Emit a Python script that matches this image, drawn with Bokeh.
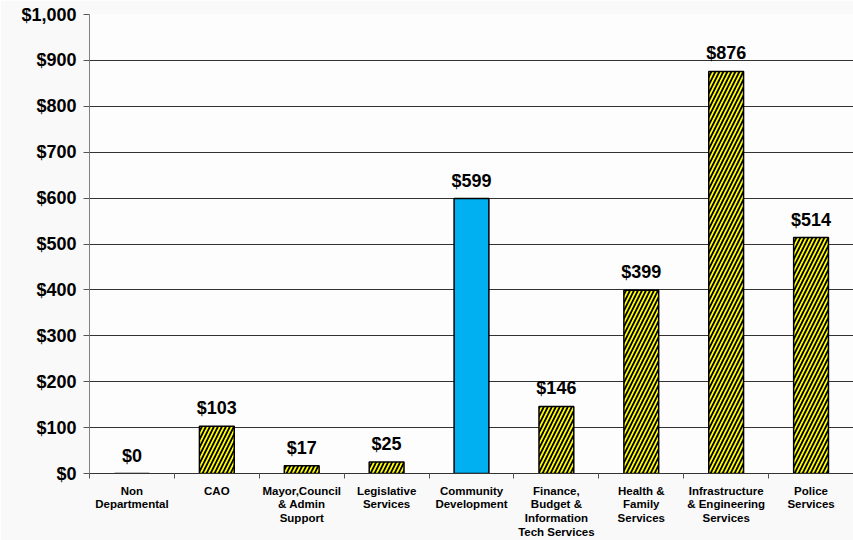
from bokeh.plotting import figure
from bokeh.models import ColumnDataSource, FixedTicker, NumeralTickFormatter, Range1d, LabelSet
from bokeh.core.properties import value
from bokeh.embed import file_html
from bokeh.resources import INLINE

categories = ["Non\nDepartmental", "CAO", "Mayor,Council\n& Admin\nSupport", "Legislative\nServices",
              "Community\nDevelopment", "Finance,\nBudget &\nInformation\nTech Services",
              "Health &\nFamily\nServices", "Infrastructure\n& Engineering\nServices", "Police\nServices"]
values = [0, 103, 17, 25, 599, 146, 399, 876, 514]
value_labels = ["$0", "$103", "$17", "$25", "$599", "$146", "$399", "$876", "$514"]
highlight = [False, False, False, False, True, False, False, False, False]
y_ticks = [0, 100, 200, 300, 400, 500, 600, 700, 800, 900, 1000]

n = len(categories)
centers = [i + 0.5 for i in range(n)]
bounds = list(range(n + 1))

yellow = dict(x=[], top=[])
blue = dict(x=[], top=[])
for c, v, h in zip(centers, values, highlight):
    d = blue if h else yellow
    d["x"].append(c)
    d["top"].append(v)

p = figure(width=853, height=540, output_backend="svg", toolbar_location=None,
           x_range=Range1d(0, n), y_range=Range1d(0, 1000),
           min_border_left=89, min_border_top=14, min_border_right=0, min_border_bottom=60)
p.background_fill_color = "#fdfdfd"
p.border_fill_color = "#f9f9f9"
p.outline_line_color = None

p.vbar(x="x", top="top", width=0.41, bottom=0, source=ColumnDataSource(yellow),
       fill_color="#ffff00", line_color="black", line_width=1.5,
       hatch_pattern="/", hatch_color="black", hatch_scale=8, hatch_weight=1.8)
p.vbar(x="x", top="top", width=0.41, bottom=0, source=ColumnDataSource(blue),
       fill_color="#00b0f0", line_color="black", line_width=1.5)

lab_src = ColumnDataSource(dict(x=centers, y=values, t=value_labels))
p.add_layout(LabelSet(x="x", y="y", text="t", source=lab_src, text_align="center",
                      text_baseline="bottom", y_offset=8, text_font=value("Liberation Sans"),
                      text_font_style="bold", text_font_size="18px", text_color="black"))

# x axis
p.xaxis.ticker = FixedTicker(ticks=centers, minor_ticks=bounds)
p.xaxis.major_label_overrides = {c: lab for c, lab in zip(centers, categories)}
p.xaxis.major_tick_out = 0
p.xaxis.major_tick_in = 0
p.xaxis.minor_tick_out = 5
p.xaxis.minor_tick_in = 0
p.xaxis.minor_tick_line_color = "#555555"
p.xaxis.axis_line_color = "#333333"
p.xaxis.major_label_text_font = "Liberation Sans"
p.xaxis.major_label_text_font_style = "bold"
p.xaxis.major_label_text_font_size = "11.5px"
p.xaxis.major_label_text_color = "black"
p.xaxis.major_label_standoff = 6
p.xaxis.major_label_text_line_height = 1.15

# y axis
p.yaxis.ticker = FixedTicker(ticks=y_ticks)
p.yaxis.formatter = NumeralTickFormatter(format="$0,0")
p.yaxis.major_tick_out = 6
p.yaxis.major_tick_in = 0
p.yaxis.minor_tick_line_color = None
p.yaxis.axis_line_color = "#808080"
p.yaxis.major_tick_line_color = "#555555"
p.yaxis.major_label_text_font = "Liberation Sans"
p.yaxis.major_label_text_font_style = "bold"
p.yaxis.major_label_text_font_size = "18px"
p.yaxis.major_label_text_color = "black"
p.yaxis.major_label_standoff = 7

p.xgrid.grid_line_color = None
p.ygrid.ticker = FixedTicker(ticks=y_ticks)
p.ygrid.grid_line_color = "#333333"
p.ygrid.grid_line_width = 1

open("out.html", "w").write(file_html(p, INLINE))
